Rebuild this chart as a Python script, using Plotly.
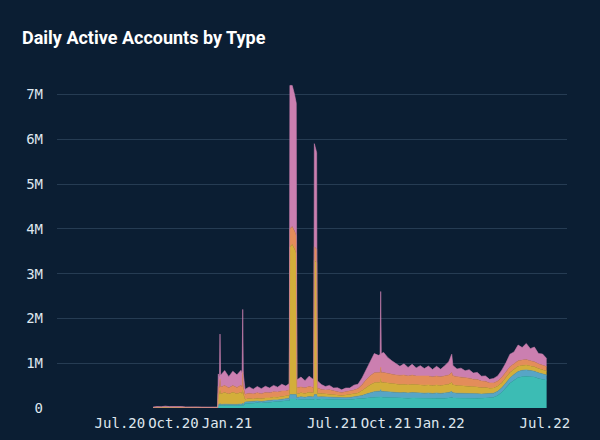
import plotly.graph_objects as go

# ---- data (values in thousands of accounts) ----
dates = [
    "2020-08-27", "2020-09-03", "2020-09-10", "2020-09-17", "2020-09-24", "2020-10-01",
    "2020-10-08", "2020-10-15", "2020-10-22", "2020-10-29", "2020-11-05", "2020-11-12",
    "2020-11-19", "2020-11-26", "2020-12-03", "2020-12-10", "2020-12-16", "2020-12-17",
    "2020-12-19", "2020-12-20", "2020-12-21", "2020-12-28", "2021-01-04", "2021-01-11",
    "2021-01-18", "2021-01-25", "2021-01-27", "2021-01-28", "2021-01-29", "2021-02-01",
    "2021-02-08", "2021-02-15", "2021-02-22", "2021-03-01", "2021-03-08", "2021-03-15",
    "2021-03-22", "2021-03-29", "2021-04-05", "2021-04-12", "2021-04-18", "2021-04-19",
    "2021-04-23", "2021-04-27", "2021-04-30", "2021-05-01", "2021-05-08", "2021-05-15",
    "2021-05-22", "2021-05-30", "2021-05-31", "2021-06-04", "2021-06-05", "2021-06-12",
    "2021-06-19", "2021-06-26", "2021-07-03", "2021-07-10", "2021-07-17", "2021-07-24",
    "2021-07-31", "2021-08-07", "2021-08-14", "2021-08-21", "2021-08-28", "2021-09-04",
    "2021-09-11", "2021-09-18", "2021-09-21", "2021-09-22", "2021-09-23", "2021-09-27",
    "2021-10-04", "2021-10-11", "2021-10-18", "2021-10-25", "2021-11-01", "2021-11-08",
    "2021-11-15", "2021-11-22", "2021-11-29", "2021-12-06", "2021-12-13", "2021-12-20",
    "2021-12-27", "2022-01-03", "2022-01-10", "2022-01-17", "2022-01-22", "2022-01-24",
    "2022-01-31", "2022-02-07", "2022-02-14", "2022-02-21", "2022-02-28", "2022-03-07",
    "2022-03-14", "2022-03-21", "2022-03-28", "2022-04-04", "2022-04-11", "2022-04-18",
    "2022-04-25", "2022-05-02", "2022-05-09", "2022-05-16", "2022-05-23", "2022-05-30",
    "2022-06-06", "2022-06-13", "2022-06-20", "2022-06-27", "2022-07-04",
]

series_a = [  # teal (bottom)
    5, 8, 6, 9, 7, 8, 6, 7, 5, 6, 5, 6, 5, 5, 4, 5, 5, 50,
    45, 60, 50, 55, 50, 55, 50, 55, 50, 70, 50, 100,
    110, 105, 115, 110, 120, 125, 135, 140, 150, 160, 170, 200,
    200, 200, 200, 180, 190, 185, 195, 190, 200, 200, 190, 200,
    195, 200, 190, 185, 180, 185, 190, 195, 200, 210, 220, 230,
    240, 245, 245, 260, 245, 240, 235, 230, 225, 220, 225, 220,
    225, 220, 220, 215, 220, 215, 220, 215, 220, 225, 240, 225,
    220, 220, 215, 220, 215, 220, 215, 225, 230, 240, 280, 350,
    450, 550, 620, 680, 700, 710, 700, 690, 660, 640, 620,
]
series_b = [  # light blue
    2, 3, 3, 3, 3, 3, 2, 3, 2, 3, 2, 2, 2, 2, 2, 2, 2, 30,
    30, 40, 30, 30, 30, 35, 30, 35, 30, 40, 30, 35,
    35, 35, 40, 35, 40, 40, 45, 40, 45, 45, 50, 100,
    100, 100, 100, 55, 60, 55, 60, 55, 100, 100, 55, 50,
    50, 50, 45, 45, 40, 45, 45, 50, 55, 70, 90, 110,
    125, 130, 130, 150, 130, 130, 125, 125, 120, 120, 120, 115,
    120, 115, 115, 115, 115, 110, 115, 110, 115, 120, 130, 115,
    110, 110, 105, 105, 100, 100, 95, 95, 90, 90, 95, 100,
    110, 120, 130, 135, 140, 140, 135, 130, 125, 120, 115,
]
series_c = [  # yellow
    2, 3, 3, 4, 3, 3, 2, 3, 2, 3, 2, 2, 2, 2, 2, 2, 2, 250,
    230, 300, 240, 260, 230, 260, 240, 260, 240, 300, 240, 60,
    65, 60, 65, 60, 65, 60, 65, 60, 65, 60, 65, 3300,
    3350, 3250, 3150, 80, 90, 85, 95, 90, 3000, 2950, 85, 75,
    70, 70, 65, 60, 60, 60, 65, 70, 80, 110, 150, 180,
    200, 200, 200, 250, 200, 200, 195, 190, 185, 185, 185, 180,
    185, 180, 180, 180, 180, 175, 180, 175, 180, 185, 200, 180,
    175, 170, 165, 160, 155, 150, 140, 135, 120, 115, 115, 115,
    120, 120, 115, 115, 110, 110, 105, 100, 95, 95, 90,
]
series_d = [  # orange
    3, 4, 4, 5, 4, 4, 3, 4, 3, 3, 3, 3, 3, 3, 2, 3, 3, 150,
    140, 250, 150, 160, 140, 150, 140, 160, 150, 400, 150, 110,
    120, 115, 120, 115, 120, 115, 120, 115, 120, 115, 120, 400,
    400, 400, 400, 140, 130, 125, 130, 125, 300, 300, 120, 90,
    85, 85, 75, 70, 65, 70, 75, 85, 100, 130, 170, 200,
    220, 220, 220, 250, 220, 220, 215, 210, 205, 205, 205, 200,
    205, 200, 200, 200, 200, 195, 200, 195, 200, 205, 220, 200,
    195, 190, 185, 180, 170, 165, 150, 140, 120, 115, 115, 120,
    125, 130, 125, 125, 120, 120, 115, 110, 105, 100, 100,
]
series_e = [  # pink (top)
    8, 15, 12, 20, 14, 18, 11, 15, 10, 13, 9, 12, 8, 10, 8, 9, 9, 280,
    240, 1000, 260, 330, 250, 320, 280, 330, 300, 1390, 290, 110,
    140, 105, 140, 110, 140, 105, 140, 110, 150, 110, 140, 3200,
    3150, 3050, 2950, 170, 220, 160, 230, 170, 2300, 2150, 160, 110,
    80, 100, 70, 90, 60, 85, 70, 110, 95, 150, 230, 320,
    430, 380, 400, 1690, 420, 450, 360, 300, 260, 200, 250, 190,
    240, 180, 230, 170, 220, 165, 215, 170, 230, 300, 410, 230,
    170, 200, 160, 190, 140, 160, 110, 120, 80, 100, 110, 160,
    200, 280, 260, 350, 280, 360, 270, 330, 230, 250, 180,
]

series = [
    ("Type A", series_a, "#3cbcb4"),
    ("Type B", series_b, "#57a5c6"),
    ("Type C", series_c, "#d3ae3a"),
    ("Type D", series_d, "#e38d5a"),
    ("Type E", series_e, "#cb7fb0"),
]

tick_dates = ["2020-07-01", "2020-10-01", "2021-01-01", "2021-07-01",
              "2021-10-01", "2022-01-01", "2022-07-01"]
tick_labels = ["Jul.20", "Oct.20", "Jan.21", "Jul.21", "Oct.21", "Jan.22", "Jul.22"]
y_tickvals = [0, 1e6, 2e6, 3e6, 4e6, 5e6, 6e6, 7e6]
y_ticktext = ["0", "1M", "2M", "3M", "4M", "5M", "6M", "7M"]

BG = "#0b1e33"

fig = go.Figure()
for name, vals, col in series:
    fig.add_trace(go.Scatter(
        x=dates, y=[v * 1000 for v in vals], name=name,
        mode="lines", stackgroup="one",
        line=dict(color=col, width=0.6),
        fillcolor=col,
    ))

fig.update_layout(
    width=600, height=440,
    paper_bgcolor=BG, plot_bgcolor=BG,
    margin=dict(l=57, r=33, t=72, b=32),
    showlegend=False,
    hovermode=False,
    title=dict(
        text="Daily Active Accounts by Type",
        font=dict(family="Roboto", size=18, color="#ffffff", weight=700),
        x=22 / 600, xref="container", xanchor="left",
        y=1 - 38 / 440, yref="container", yanchor="middle",
    ),
    font=dict(family="DejaVu Sans Mono", size=14, color="#dfe6ee"),
)
fig.update_xaxes(
    range=["2020-03-15", "2022-08-08"],
    tickvals=tick_dates, ticktext=tick_labels,
    showgrid=False, zeroline=False, showline=False,
    ticks="", ticklabelstandoff=5, automargin=False,
)
fig.update_yaxes(
    range=[0, 7.5e6],
    tickvals=y_tickvals, ticktext=y_ticktext,
    showgrid=True, gridcolor="rgba(110,140,170,0.28)", gridwidth=1,
    zeroline=False, showline=False, ticks="", ticklabelstandoff=13,
    automargin=False,
)

fig.write_html("out.html")
